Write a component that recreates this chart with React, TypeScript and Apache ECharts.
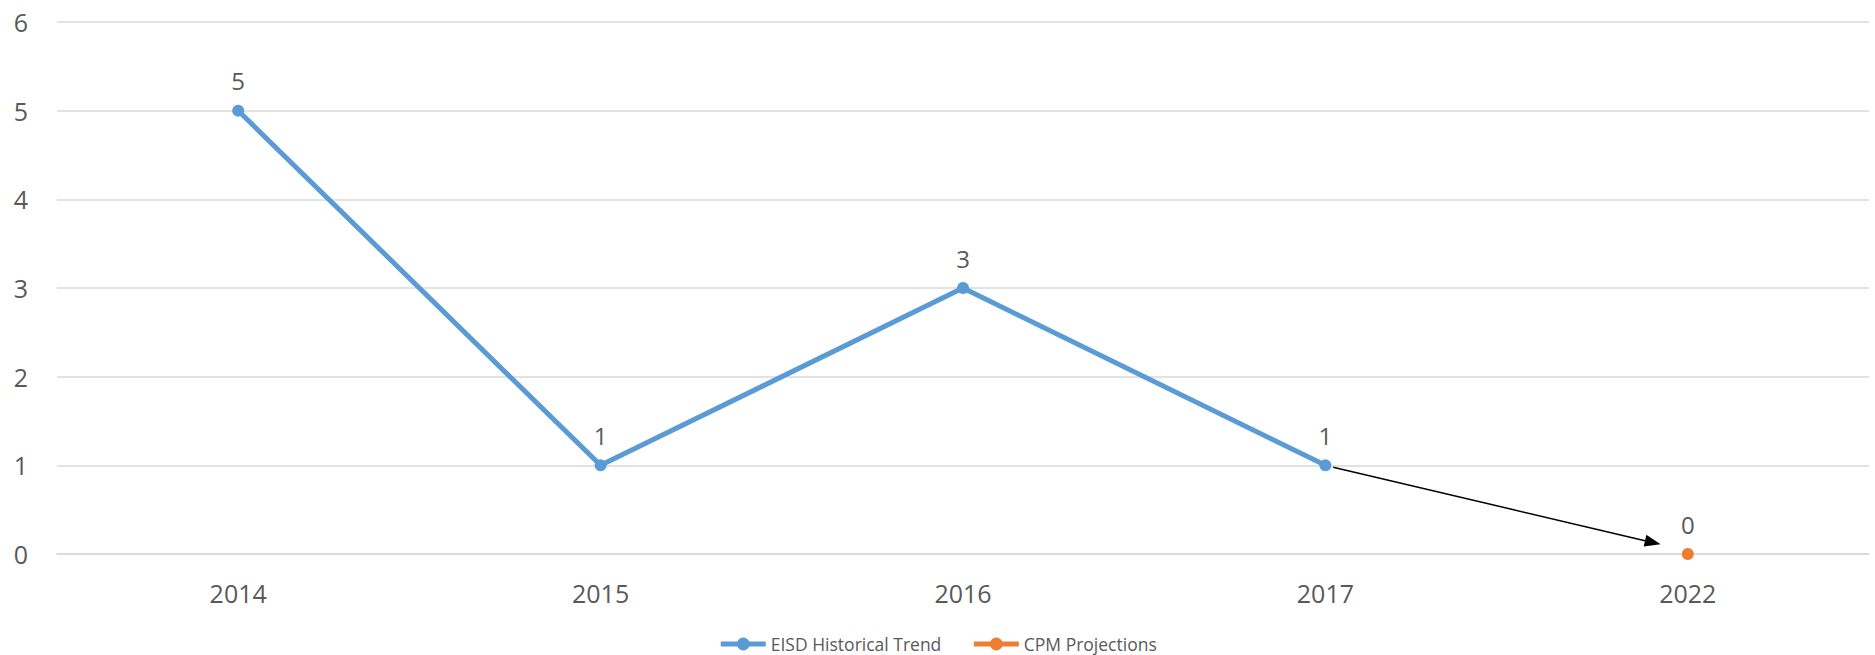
import React, { useEffect, useRef } from "react";
import * as echarts from "echarts";

const categories = ["2014", "2015", "2016", "2017", "2022"];
const historical = [5, 1, 3, 1, null];
const projections = [null, null, null, null, 0];
const yTicks = [0, 6, 1];

export default function App() {
  const ref = useRef<HTMLDivElement>(null);
  useEffect(() => {
    if (!ref.current) return;
    const chart = echarts.init(ref.current, null, { renderer: "svg" });
    const font = "'Open Sans', 'Liberation Sans', sans-serif";
    const gray = "#595959";
    chart.setOption({
      animation: false,
      grid: { left: 57, right: 6, top: 22, bottom: 101 },
      legend: {
        top: 630,
        left: "center",
        padding: [5, 5, 0, 5],
        itemWidth: 45,
        itemHeight: 16,
        itemGap: 30,
        lineStyle: { width: 5 },
        textStyle: { color: gray, fontSize: 17.5, lineHeight: 18, fontFamily: font },
        data: ["EISD Historical Trend", "CPM Projections"],
      },
      xAxis: {
        type: "category",
        data: categories,
        boundaryGap: true,
        axisTick: { show: false },
        axisLine: { lineStyle: { color: "#d9d9d9", width: 1.5 } },
        axisLabel: { color: gray, fontSize: 25, fontFamily: font, margin: 26 },
      },
      yAxis: {
        type: "value",
        min: yTicks[0],
        max: yTicks[1],
        interval: yTicks[2],
        axisLine: { show: false },
        axisTick: { show: false },
        splitLine: { lineStyle: { color: "#d9d9d9", width: 1.5 } },
        axisLabel: { color: gray, fontSize: 25, fontFamily: font, margin: 29 },
      },
      series: [
        {
          name: "EISD Historical Trend",
          type: "line",
          data: historical,
          symbol: "circle",
          symbolSize: 12,
          lineStyle: { color: "#5B9BD5", width: 5 },
          itemStyle: { color: "#5B9BD5" },
          label: { show: true, position: "top", distance: 12, color: gray, fontSize: 24, fontFamily: font },
        },
        {
          name: "CPM Projections",
          type: "line",
          data: projections,
          symbol: "circle",
          symbolSize: 12,
          lineStyle: { color: "#ED7D31", width: 5 },
          itemStyle: { color: "#ED7D31" },
          label: { show: true, position: "top", distance: 12, color: gray, fontSize: 24, fontFamily: font },
        },
      ],
    });
    const p1 = chart.convertToPixel({ seriesIndex: 0 }, [3, historical[3] as number]) as number[];
    const p2 = chart.convertToPixel({ seriesIndex: 1 }, [4, projections[4] as number]) as number[];
    const dx = p2[0] - p1[0];
    const dy = p2[1] - p1[1];
    const len = Math.sqrt(dx * dx + dy * dy);
    const ux = dx / len;
    const uy = dy / len;
    const s = [p1[0] + ux * 8, p1[1] + uy * 8];
    const tip = [p2[0] - ux * 28, p2[1] - uy * 28 - 3];
    const tdx = tip[0] - s[0];
    const tdy = tip[1] - s[1];
    const tl = Math.sqrt(tdx * tdx + tdy * tdy);
    const vx = tdx / tl;
    const vy = tdy / tl;
    const headL = 16;
    const headW = 6;
    const base = [tip[0] - vx * headL, tip[1] - vy * headL];
    chart.setOption({
      graphic: [
        {
          type: "line",
          shape: { x1: s[0], y1: s[1], x2: base[0], y2: base[1] },
          style: { stroke: "#000", lineWidth: 1.5 },
          z: 100,
        },
        {
          type: "polygon",
          shape: {
            points: [
              tip,
              [base[0] - vy * headW, base[1] + vx * headW],
              [base[0] + vy * headW, base[1] - vx * headW],
            ],
          },
          style: { fill: "#000" },
          z: 100,
        },
      ],
    });
    return () => chart.dispose();
  }, []);
  return (
    <div
      ref={ref}
      style={{ position: "fixed", left: 0, top: 0, width: 1875, height: 655, background: "#fff" }}
    />
  );
}
